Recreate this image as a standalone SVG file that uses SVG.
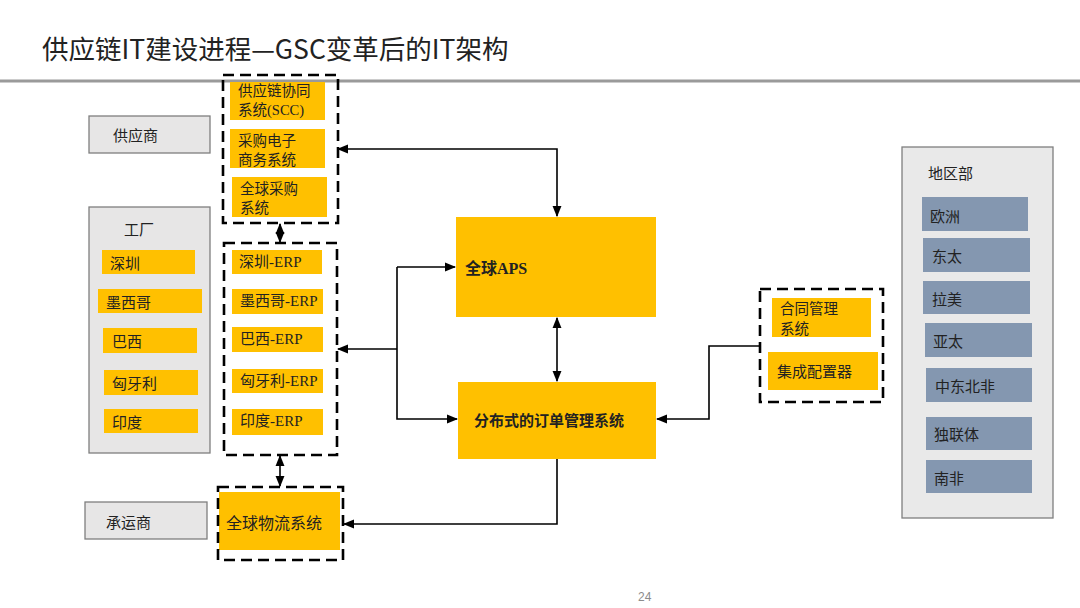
<svg xmlns="http://www.w3.org/2000/svg" width="1080" height="608" viewBox="0 0 1080 608">
<style>
text{font-family:"Noto Sans CJK SC","Noto Sans",sans-serif;fill:#222;dominant-baseline:central}
.mix{font-family:"Liberation Serif","Noto Sans CJK SC",serif}
.t15{font-size:15px}
.t14{font-size:14.5px}
.t16{font-size:16px}
.y{fill:#FFC000}
.g{fill:#E7E6E6;stroke:#7F7F7F;stroke-width:1.3}
.b{fill:#8497B0}
.d{fill:none;stroke:#000;stroke-width:2.6;stroke-dasharray:11 6}
.c{fill:none;stroke:#000;stroke-width:1.6}
.bold{font-weight:bold}
</style>
<defs>
<marker id="ah" viewBox="0 0 10 10" refX="9" refY="5" markerWidth="7" markerHeight="7" orient="auto-start-reverse">
<path d="M0,1 L10,5 L0,9 z" fill="#000"/>
</marker>
</defs>
<rect width="1080" height="608" fill="#fff"/>
<g id="title">
<text x="42" y="47" style="font-size:26.5px">供应链IT建设进程—GSC变革后的IT架构</text>
<line x1="0" y1="81" x2="1080" y2="81" stroke="#9A9A9A" stroke-width="3"/>
</g>
<g id="connectors">
<path class="c" d="M338,149 L557,149 L557,216" marker-start="url(#ah)" marker-end="url(#ah)"/>
<path class="c" d="M557,318 L557,381" marker-start="url(#ah)" marker-end="url(#ah)"/>
<path class="c" d="M397,267 L455,267" marker-end="url(#ah)"/>
<path class="c" d="M397,267 L397,419 L457,419" marker-end="url(#ah)"/>
<path class="c" d="M397,349 L338,349" marker-end="url(#ah)"/>
<path class="c" d="M760,346 L709,346 L709,419 L657,419" marker-end="url(#ah)"/>
<path class="c" d="M557,459 L557,524 L344,524" marker-end="url(#ah)"/>
<path class="c" d="M280,224 L280,242" marker-start="url(#ah)" marker-end="url(#ah)"/>
<path class="c" d="M280,456 L280,486" marker-start="url(#ah)" marker-end="url(#ah)"/>
</g>
<g id="supplier">
<rect class="g" x="89" y="116" width="121" height="37"/>
<text class="t15" x="113" y="134">供应商</text>
</g>
<g id="procurement">
<rect class="d" x="223" y="75" width="115" height="148"/>
<rect class="y" x="230" y="82" width="95" height="38"/>
<text class="t14 mix" x="238" y="91">供应链协同</text>
<text class="t14 mix" x="238" y="110">系统(SCC)</text>
<rect class="y" x="230" y="129" width="95" height="39"/>
<text class="t14" x="238" y="139">采购电子</text>
<text class="t14" x="238" y="158">商务系统</text>
<rect class="y" x="232" y="177" width="95" height="40"/>
<text class="t14" x="240" y="187">全球采购</text>
<text class="t14" x="240" y="206">系统</text>
</g>
<g id="factory">
<rect class="g" x="89" y="207" width="121" height="246"/>
<text class="t15" x="124" y="228">工厂</text>
<rect class="y" x="102" y="250" width="93" height="24"/>
<text class="t15" x="110" y="262">深圳</text>
<rect class="y" x="98" y="289" width="104" height="24"/>
<text class="t15" x="106" y="301">墨西哥</text>
<rect class="y" x="103" y="328" width="94" height="25"/>
<text class="t15" x="112" y="340">巴西</text>
<rect class="y" x="104" y="370" width="94" height="25"/>
<text class="t15" x="112" y="382">匈牙利</text>
<rect class="y" x="104" y="409" width="94" height="24"/>
<text class="t15" x="112" y="421">印度</text>
</g>
<g id="erp">
<rect class="d" x="224" y="243" width="113" height="212"/>
<rect class="y" x="232" y="250" width="90" height="24"/>
<text class="t15 mix" x="239" y="262">深圳-ERP</text>
<rect class="y" x="232" y="289" width="91" height="25"/>
<text class="t15 mix" x="240" y="301">墨西哥-ERP</text>
<rect class="y" x="232" y="327" width="91" height="25"/>
<text class="t15 mix" x="240" y="339">巴西-ERP</text>
<rect class="y" x="232" y="369" width="91" height="24"/>
<text class="t15 mix" x="240" y="381">匈牙利-ERP</text>
<rect class="y" x="232" y="409" width="91" height="26"/>
<text class="t15 mix" x="240" y="421">印度-ERP</text>
</g>
<g id="carrier">
<rect class="g" x="85" y="502" width="122" height="37"/>
<text class="t15" x="106" y="521">承运商</text>
</g>
<g id="logistics">
<rect class="y" x="219" y="492" width="121" height="58"/>
<rect class="d" x="218" y="487" width="125" height="73"/>
<text class="t16" x="226" y="522">全球物流系统</text>
</g>
<g id="aps">
<rect class="y" x="456" y="217" width="200" height="100"/>
<text class="t16 mix bold" x="465" y="268">全球APS</text>
</g>
<g id="oms">
<rect class="y" x="458" y="382" width="198" height="77"/>
<text class="t15 bold" x="474" y="419">分布式的订单管理系统</text>
</g>
<g id="contract">
<rect class="d" x="760" y="289" width="123" height="113"/>
<rect class="y" x="772" y="298" width="99" height="39"/>
<text class="t14" x="780" y="307">合同管理</text>
<text class="t14" x="780" y="327">系统</text>
<rect class="y" x="768" y="352" width="110" height="38"/>
<text class="t15" x="777" y="370">集成配置器</text>
</g>
<g id="regions">
<rect class="g" x="902" y="147" width="151" height="371" style="fill:#E9E9E9"/>
<text class="t15" x="928" y="172">地区部</text>
<rect class="b" x="922" y="197" width="106" height="34"/>
<text class="t15" x="930" y="215">欧洲</text>
<rect class="b" x="923" y="238" width="107" height="34"/>
<text class="t15" x="932" y="255">东太</text>
<rect class="b" x="923" y="281" width="107" height="33"/>
<text class="t15" x="932" y="298">拉美</text>
<rect class="b" x="925" y="323" width="107" height="34"/>
<text class="t15" x="933" y="340">亚太</text>
<rect class="b" x="926" y="368" width="106" height="34"/>
<text class="t15" x="935" y="385">中东北非</text>
<rect class="b" x="926" y="417" width="106" height="33"/>
<text class="t15" x="934" y="433">独联体</text>
<rect class="b" x="926" y="460" width="106" height="33"/>
<text class="t15" x="934" y="477">南非</text>
</g>
<text x="638" y="597" style="font-size:12px;fill:#8C8C8C;font-family:'Liberation Sans',sans-serif">24</text>
</svg>
